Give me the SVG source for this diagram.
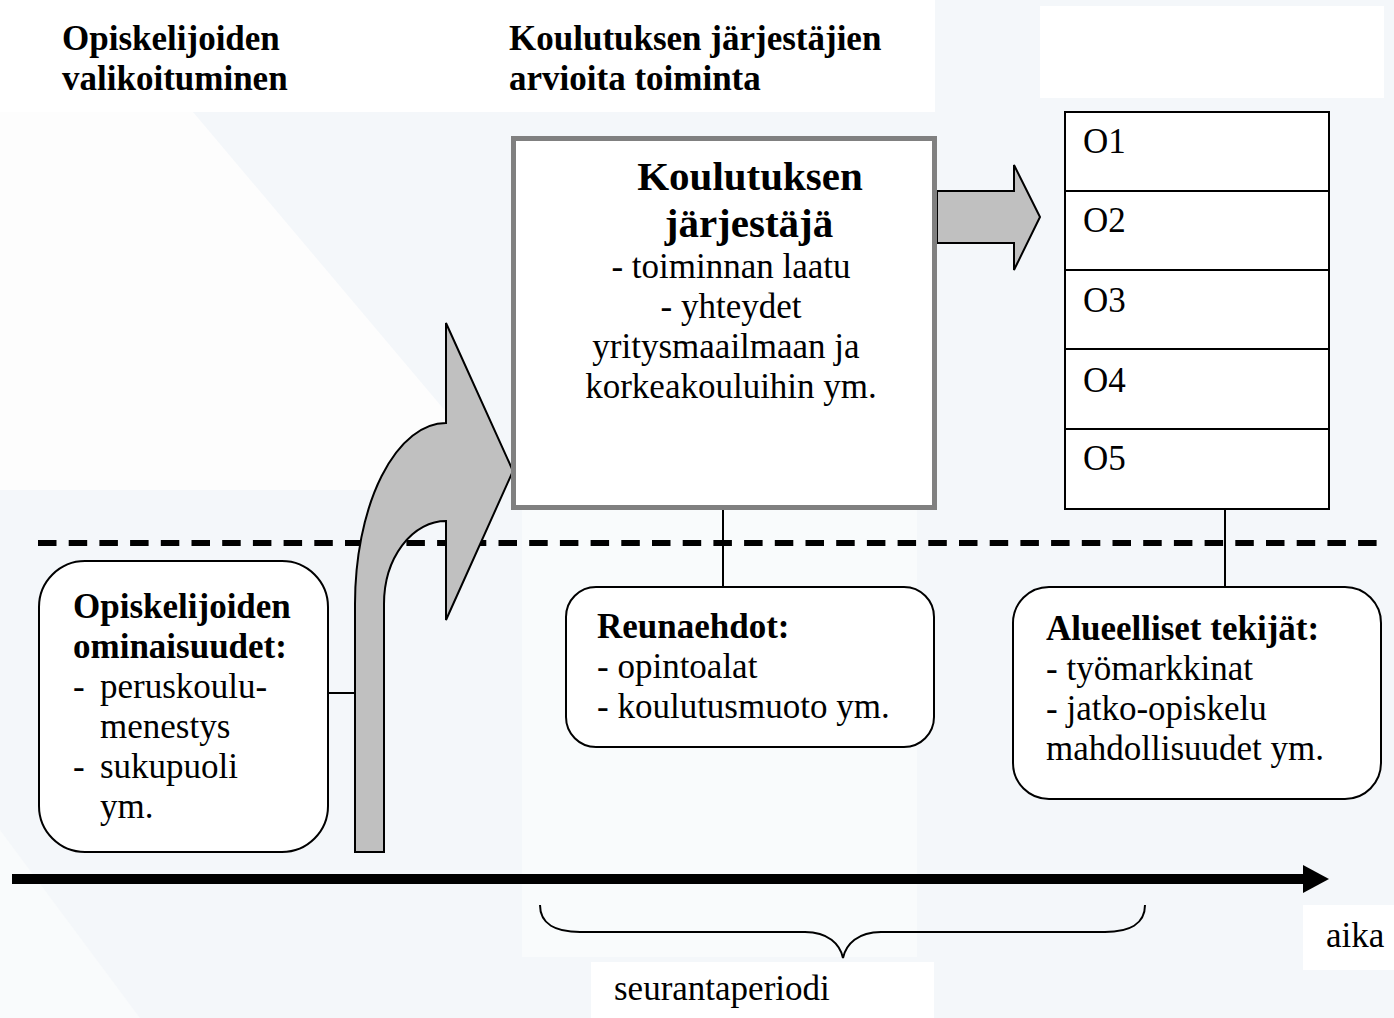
<svg xmlns="http://www.w3.org/2000/svg" width="1394" height="1018" viewBox="0 0 1394 1018">
<style>
text{font-family:"Liberation Serif","Times New Roman",serif;font-size:35px;fill:#000}
.b{font-weight:bold}
.h{font-weight:bold;font-size:41px}
.rb{fill:#fff;stroke:#000;stroke-width:2}
.ln{stroke:#000;stroke-width:2;fill:none}
.blk{fill:#c0c0c0;stroke:#000;stroke-width:2;stroke-linejoin:miter}
.w{fill:#fff}
</style>
<g id="background">
<rect x="0" y="0" width="1394" height="1018" fill="#f4f7fa"/>
<rect class="w" x="0" y="0" width="935" height="112"/>
<polygon fill="#fdfdfd" points="0,112 193,112 447,413 447,490 0,490"/>
<polygon fill="#f9fbfc" points="522,490 917,490 917,957 522,957"/>
<polygon fill="#f9fbfc" points="0,830 140,1018 0,1018"/>
<rect class="w" x="1040" y="6" width="344" height="92"/>
<rect class="w" x="1303" y="905" width="91" height="65"/>
<rect class="w" x="591" y="962" width="343" height="56"/>
</g>
<g id="title-left">
<text class="b" x="62" y="50">Opiskelijoiden</text>
<text class="b" x="62" y="90">valikoituminen</text>
</g>
<g id="title-mid">
<text class="b" x="509" y="50">Koulutuksen järjestäjien</text>
<text class="b" x="509" y="90">arvioita toiminta</text>
</g>
<g id="connectors">
<line x1="38" y1="543" x2="1380" y2="543" stroke="#000" stroke-width="6" stroke-dasharray="18.5,12.2"/>
<line class="ln" x1="723" y1="510" x2="723" y2="588"/>
<line class="ln" x1="1225" y1="509" x2="1225" y2="588"/>
<line class="ln" x1="328" y1="693" x2="355" y2="693"/>
<path id="curved-arrow" class="blk" d="M355,852 L355,604 A91,181 0 0 1 446,423 L446,323 L513,471 L446,620 L446,521 A62,83 0 0 0 384,604 L384,852 Z"/>
<path id="block-arrow" class="blk" d="M937,191 L1014,191 L1014,165 L1040,217 L1014,270 L1014,243 L937,243 Z"/>
<line x1="12" y1="879" x2="1305" y2="879" stroke="#000" stroke-width="10"/>
<polygon points="1303,865 1329,879 1303,893" fill="#000"/>
<path class="ln" d="M540,905 C540,924 556,932 580,932 L805,932 C828,932 840,944 843,958 C846,944 858,932 881,932 L1105,932 C1129,932 1145,924 1145,905"/>
</g>
<g id="box-main">
<rect x="513.5" y="138.5" width="421" height="369" fill="#fff" stroke="#808080" stroke-width="5"/>
<text class="h" x="750" y="190" text-anchor="middle">Koulutuksen</text>
<text class="h" x="749" y="237" text-anchor="middle">järjestäjä</text>
<text x="731" y="278" text-anchor="middle">- toiminnan laatu</text>
<text x="731" y="318" text-anchor="middle">- yhteydet</text>
<text x="726" y="358" text-anchor="middle">yritysmaailmaan ja</text>
<text x="731" y="398" text-anchor="middle">korkeakouluihin ym.</text>
</g>
<g id="outcomes">
<g id="o1"><rect class="rb" x="1065" y="112" width="264" height="79"/><text x="1083" y="153">O1</text></g>
<g id="o2"><rect class="rb" x="1065" y="191" width="264" height="79"/><text x="1083" y="232">O2</text></g>
<g id="o3"><rect class="rb" x="1065" y="270" width="264" height="79"/><text x="1083" y="312">O3</text></g>
<g id="o4"><rect class="rb" x="1065" y="349" width="264" height="80"/><text x="1083" y="392">O4</text></g>
<g id="o5"><rect class="rb" x="1065" y="429" width="264" height="80"/><text x="1083" y="470">O5</text></g>
</g>
<g id="box-students">
<rect class="rb" x="39" y="561" width="289" height="291" rx="46" ry="46"/>
<text class="b" x="73" y="618">Opiskelijoiden</text>
<text class="b" x="73" y="658">ominaisuudet:</text>
<text x="73" y="698">-</text><text x="100" y="698">peruskoulu-</text>
<text x="100" y="738">menestys</text>
<text x="73" y="778">-</text><text x="100" y="778">sukupuoli</text>
<text x="100" y="818">ym.</text>
</g>
<g id="box-reunaehdot">
<rect class="rb" x="566" y="587" width="368" height="160" rx="30" ry="30"/>
<text class="b" x="597" y="638">Reunaehdot:</text>
<text x="597" y="678">- opintoalat</text>
<text x="597" y="718">- koulutusmuoto ym.</text>
</g>
<g id="box-alueelliset">
<rect class="rb" x="1013" y="587" width="368" height="212" rx="36" ry="36"/>
<text class="b" x="1046" y="640">Alueelliset tekijät:</text>
<text x="1046" y="680">- työmarkkinat</text>
<text x="1046" y="720">- jatko-opiskelu</text>
<text x="1046" y="760">mahdollisuudet ym.</text>
</g>
<g id="labels">
<text x="1326" y="947">aika</text>
<text x="614" y="1000">seurantaperiodi</text>
</g>
</svg>
